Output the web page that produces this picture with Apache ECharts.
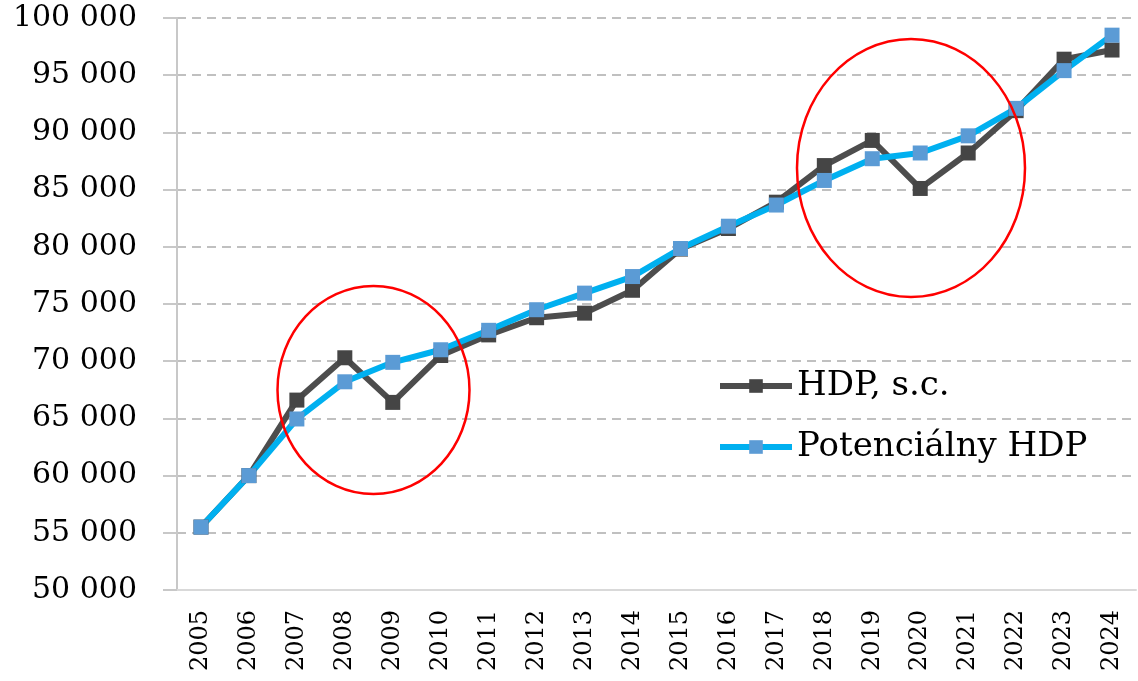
<!DOCTYPE html>
<html>
<head>
<meta charset="utf-8">
<script src="https://cdn.jsdelivr.net/npm/echarts@6/dist/echarts.min.js"></script>
<style>html,body{margin:0;padding:0;background:#fff;}#c{width:1138px;height:681px;}</style>
</head>
<body>
<div id="c"></div>
<script>
const years = ['2005','2006','2007','2008','2009','2010','2011','2012','2013','2014','2015','2016','2017','2018','2019','2020','2021','2022','2023','2024'];
const hdp = [55500, 60000, 66600, 70300, 66400, 70500, 72300, 73800, 74200, 76200, 79800, 81600, 83900, 87100, 89300, 85100, 88200, 91900, 96400, 97200];
const potencialny = [55500, 60000, 64950, 68200, 69900, 71000, 72700, 74500, 75950, 77400, 79850, 81800, 83650, 85800, 87700, 88200, 89700, 92100, 95400, 98500];
const seriesNames = ['HDP, s.c.', 'Potenciálny HDP'];

const chart = echarts.init(document.getElementById('c'));
const font = 'DejaVu Serif';
chart.setOption({
  animation: false,
  backgroundColor: '#fff',
  grid: {left: 177, right: 2, top: 18, bottom: 91, containLabel: false},
  legend: {
    orient: 'vertical', left: 712, top: 364,
    itemWidth: 72, itemHeight: 17, itemGap: 27,
    lineStyle: {width: 6},
    textStyle: {fontFamily: font, fontSize: 34, color: '#000'},
    data: seriesNames
  },
  xAxis: {
    type: 'category', data: years, boundaryGap: true,
    axisLine: {lineStyle: {color: '#d9d9d9', width: 2}},
    axisTick: {show: false},
    axisLabel: {rotate: 90, fontFamily: font, fontSize: 24, color: '#000', margin: 20}
  },
  yAxis: {
    type: 'value', min: 50000, max: 100000, interval: 5000,
    axisLine: {show: true, lineStyle: {color: '#c8c8c8', width: 2}},
    axisTick: {show: true, length: 14, lineStyle: {color: '#c8c8c8', width: 2}},
    splitLine: {lineStyle: {color: '#c0c0c0', width: 2, type: [9, 6]}},
    axisLabel: {
      fontFamily: font, fontSize: 30, color: '#000', margin: 40,
      formatter: v => String(v).replace(/\B(?=(\d{3})+(?!\d))/g, ' ')
    }
  },
  series: [
    {
      name: seriesNames[0], type: 'line', data: hdp,
      symbol: 'rect', symbolSize: 15,
      lineStyle: {color: '#4d4d4d', width: 6},
      itemStyle: {color: '#454545'}
    },
    {
      name: seriesNames[1], type: 'line', data: potencialny,
      symbol: 'rect', symbolSize: 15,
      lineStyle: {color: '#00b0f0', width: 6},
      itemStyle: {color: '#5b9bd5'}
    }
  ],
  graphic: [
    {type: 'ellipse', shape: {cx: 373.5, cy: 390, rx: 96, ry: 104}, style: {fill: null, stroke: '#ff0000', lineWidth: 2.5}, z: 100},
    {type: 'ellipse', shape: {cx: 911, cy: 168, rx: 114, ry: 129}, style: {fill: null, stroke: '#ff0000', lineWidth: 2.5}, z: 100}
  ]
});
</script>
</body>
</html>
